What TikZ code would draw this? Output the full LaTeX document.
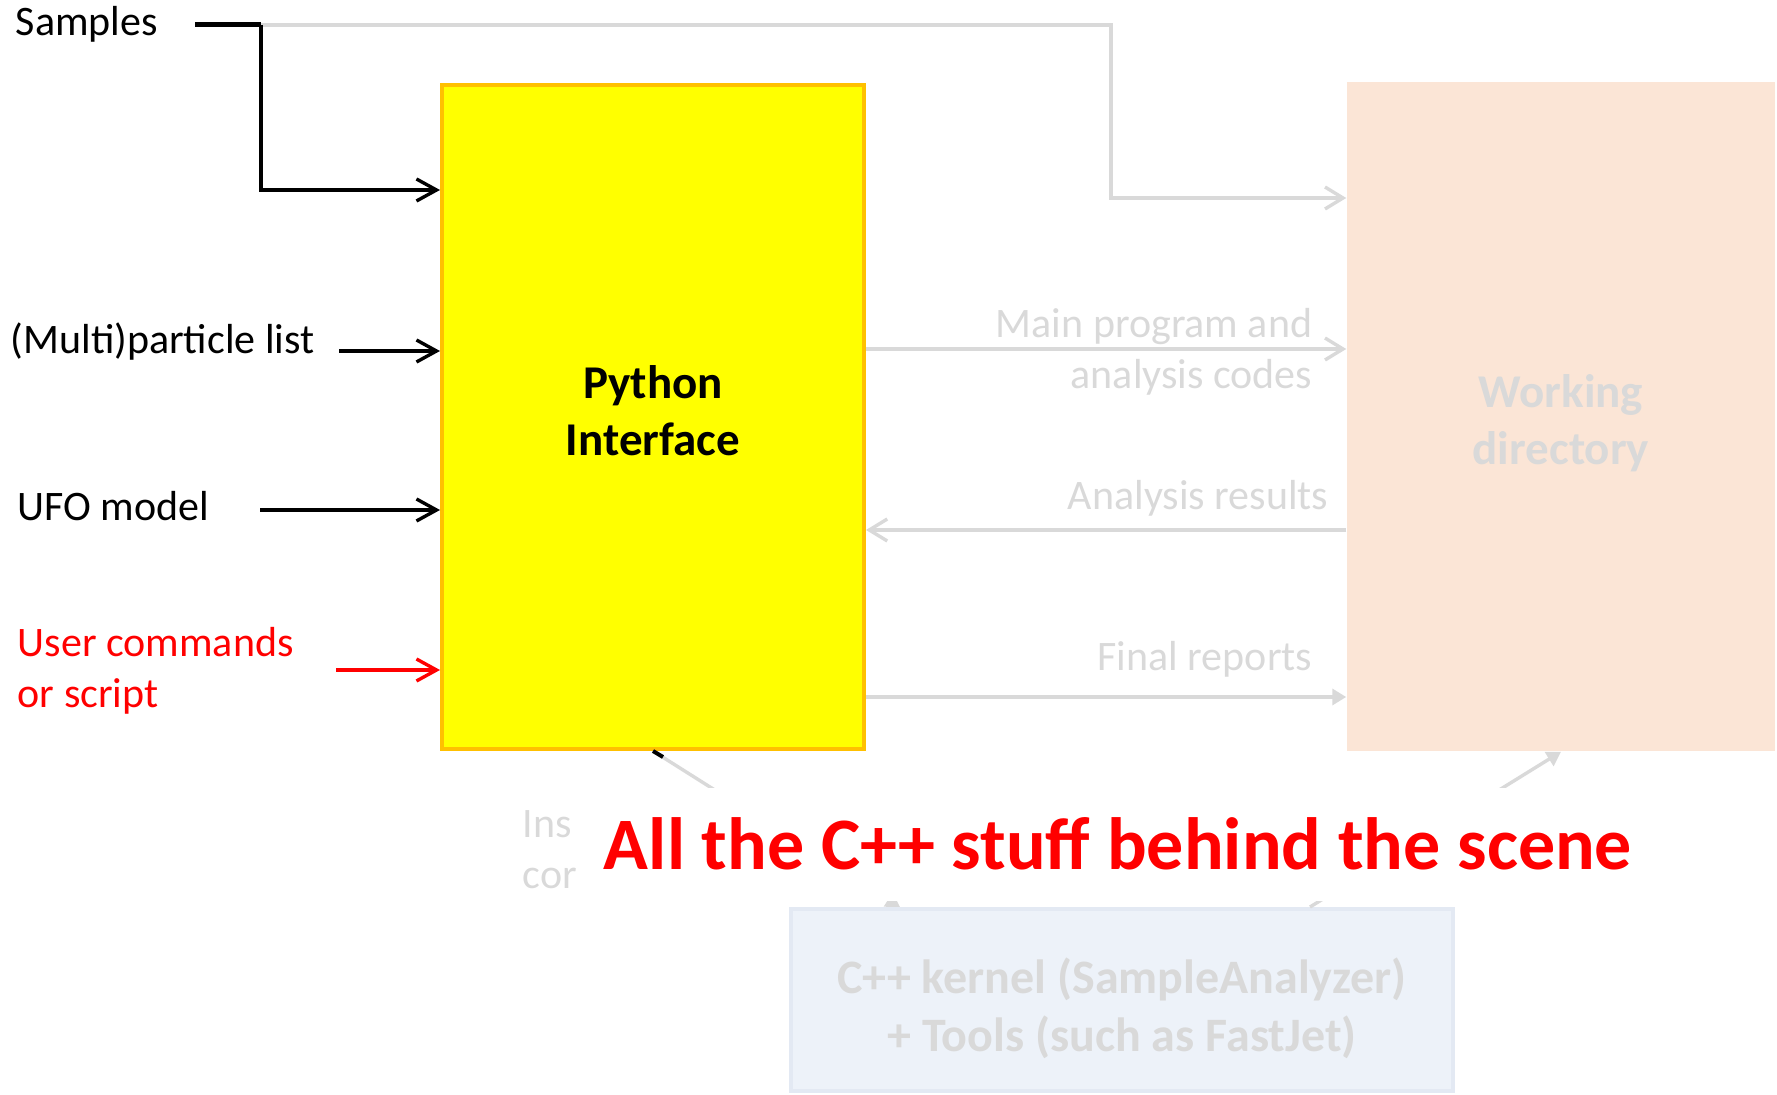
\documentclass[tikz,border=0pt]{standalone}
\usepackage{fontspec}
\setmainfont{Carlito}
\usetikzlibrary{arrows.meta,calc}

\definecolor{pyyellow}{HTML}{FFFF00}
\definecolor{pyorange}{HTML}{FFC000}
\definecolor{fadegrey}{HTML}{D9D9D9}
\definecolor{wdpeach}{HTML}{FBE5D6}
\definecolor{cppfill}{HTML}{EDF2F9}
\definecolor{cppline}{HTML}{E3E9F3}

\tikzset{every picture/.style={line width=0.75pt},
	inlabel/.style={font=\fontsize{21}{25.5}\selectfont, inner sep=0pt},
	greylabel/.style={inlabel, text=fadegrey, align=right},
	boxtext/.style={inner sep=0pt, align=center, font=\bfseries\fontsize{23.5}{28.5}\selectfont},
	pybox/.style={draw=pyorange, fill=pyyellow, line width=2pt, minimum width=211pt, minimum height=332pt, inner sep=0pt},
	wdbox/.style={fill=wdpeach, minimum width=214pt, minimum height=334.5pt, inner sep=0pt},
	cppbox/.style={draw=cppline, fill=cppfill, line width=2pt, minimum width=331pt, minimum height=91pt, inner sep=0pt},
	inarrow/.style={line width=1.7pt, -{Straight Barb[length=10pt,width=11pt]}},
	greyarrow/.style={draw=fadegrey, line width=1.7pt, -{Straight Barb[length=9pt,width=11pt]}},
	greytri/.style={draw=fadegrey, line width=1.7pt, -{Triangle[length=7pt,width=8pt]}}
}

\begin{document}
\begin{tikzpicture}[x=0.5pt,y=0.5pt,yscale=-1]
	\useasboundingbox (0,0) rectangle (1777,1095);

	%Shape: Rectangle [Python interface]
	\node[pybox] (py) at (653,417) {};
	%Shape: Rectangle [Working directory]
	\node[wdbox] (wd) at (1561,416.5) {};
	%Shape: Rectangle [C++ kernel]
	\node[cppbox] (cpp) at (1122,1000) {};

	% Text Node
	\node[boxtext] (pylbl) at (653,411) {Python\\Interface};
	% Text Node
	\node[boxtext, text=fadegrey] (wdlbl) at (1561,423) {Working\\directory};
	% Text Node
	\node[boxtext, text=fadegrey, font=\bfseries\fontsize{24}{29}\selectfont] (cpplbl) at (1122,1008) {C++ kernel (SampleAnalyzer)\\+ Tools (such as FastJet)};

	% Text Node
	\node[inlabel, anchor=base west] (samples) at (15,36) {Samples};
	% Text Node
	\node[inlabel, anchor=base west] (multi) at (10,354) {(Multi)particle list};
	% Text Node
	\node[inlabel, anchor=base west] (ufo) at (17,521) {UFO model};
	% Text Node
	\node[inlabel, anchor=west, align=left, text=red] (user) at (17,671) {User commands\\or script};
	% Text Node
	\node[greylabel, anchor=east] (mainlbl) at (1313,352) {Main program and\\analysis codes};
	% Text Node
	\node[greylabel, anchor=base east] (reslbl) at (1329,510) {Analysis results};
	% Text Node
	\node[greylabel, anchor=base east] (replbl) at (1313,671) {Final reports};
	% Text Node
	\node[greylabel, anchor=west, align=left] (inslbl) at (522,850) {Ins\\cor};

	\coordinate (s0) at (195,25);
	\coordinate (s1) at (261,25);
	\coordinate (s2) at (1111,25);
	\coordinate (sPy) at (0,190);
	\coordinate (sWd) at (0,198);
	\coordinate (mPy) at (339,351);
	\coordinate (uPy) at (260,510);
	\coordinate (cPy) at (336,670);
	\coordinate (mainY) at (0,349);
	\coordinate (resY) at (0,530);
	\coordinate (repY) at (0,697);

	%Connectors [samples]
	\draw[greyarrow] (s1) -- (s2) |- (wd.west |- sWd);
	\draw[line width=2.5pt] (s0) -- (s1);
	\draw[inarrow] (s1) |- (py.west |- sPy);
	%Connectors [inputs]
	\draw[inarrow] (mPy) -- (mPy -| py.west);
	\draw[inarrow] (uPy) -- (uPy -| py.west);
	\draw[inarrow, red] (cPy) -- (cPy -| py.west);
	%Connectors [working directory]
	\draw[greyarrow] (py.east |- mainY) -- (wd.west |- mainY);
	\draw[greyarrow] (wd.west |- resY) -- (py.east |- resY);
	\draw[greytri] (py.east |- repY) -- (wd.west |- repY);
	%Connectors [C++ kernel]
	\draw[greytri] (py.south) -- ($(cpp.north)+(-222,0)$);
	\draw[line width=2pt] (py.south) -- ++(10,6);
	\draw[greytri] ($(cpp.north)+(188,0)$) -- (wd.south);

	% Text Node
	\node[fill=white, text=red, inner sep=0pt, minimum width=542pt, minimum height=56.5pt, font=\bfseries\fontsize{37}{44}\selectfont] (scene) at (1118,844) {All the C++ stuff behind the scene};

\end{tikzpicture}
\end{document}
